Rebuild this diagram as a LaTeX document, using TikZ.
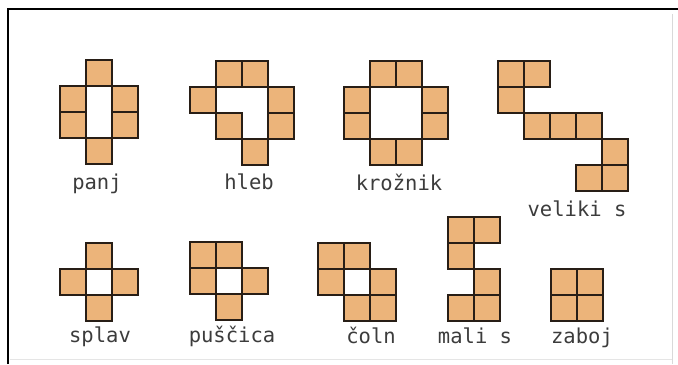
\documentclass[tikz,border=0pt]{standalone}
\usepackage{fontspec}
\usepackage{xcolor}
\usepackage{tikz}
\usetikzlibrary{positioning}
\newfontfamily\lblfont{DejaVu Sans Mono}
\definecolor{cellfill}{RGB}{236,180,122}
\definecolor{cellline}{RGB}{40,30,22}
\definecolor{lbltext}{RGB}{60,60,60}

\begin{document}
\begin{tikzpicture}[
    x=0.03cm,y=-0.03cm,
    cell/.style={draw=cellline,fill=cellfill,line width=1.3pt,minimum size=0.78cm,inner sep=0pt,outer sep=0pt},
    lbl/.style={text=lbltext,font=\lblfont\fontsize{17.5}{20}\selectfont,inner sep=0pt,anchor=base}
  ]
    \useasboundingbox (0,0) rectangle (678,364);
    % frame
    \draw[line width=1.4pt] (8,364) -- (8,9) -- (678,9);
    \draw[black!15,line width=0.8pt] (672,14) -- (672,364);
    \draw[black!10,line width=0.8pt] (10,359) -- (672,359);

    % top row
    \foreach \c/\r in {1/0,0/1,2/1,0/2,2/2,1/3}
      \node[cell] (panj-\c-\r) at ({60+26*\c+13},{60+26*\r+13}) {};
    \node[lbl] (lpanj) at (97,189) {panj};

    \foreach \c/\r in {1/0,2/0,0/1,3/1,1/2,3/2,2/3}
      \node[cell] (hleb-\c-\r) at ({190+26*\c+13},{61+26*\r+13}) {};
    \node[lbl] (lhleb) at (249,189) {hleb};

    \foreach \c/\r in {1/0,2/0,0/1,3/1,0/2,3/2,1/3,2/3}
      \node[cell] (kroznik-\c-\r) at ({344+26*\c+13},{61+26*\r+13}) {};
    \node[lbl] (lkroznik) at (399,190) {krožnik};

    \foreach \c/\r in {0/0,1/0,0/1,1/2,2/2,3/2,4/3,3/4,4/4}
      \node[cell] (velikis-\c-\r) at ({498+26*\c+13},{61+26*\r+13}) {};
    \node[lbl] (lvelikis) at (577,216) {veliki s};

    % bottom row
    \foreach \c/\r in {1/0,0/1,2/1,1/2}
      \node[cell] (splav-\c-\r) at ({60+26*\c+13},{243+26*\r+13}) {};
    \node[lbl] (lsplav) at (100,342) {splav};

    \foreach \c/\r in {0/0,1/0,0/1,2/1,1/2}
      \node[cell] (puscica-\c-\r) at ({190+26*\c+13},{242+26*\r+13}) {};
    \node[lbl] (lpuscica) at (232,342) {puščica};

    \foreach \c/\r in {0/0,1/0,0/1,2/1,1/2,2/2}
      \node[cell] (coln-\c-\r) at ({318+26*\c+13},{243+26*\r+13}) {};
    \node[lbl] (lcoln) at (371,343) {čoln};

    \foreach \c/\r in {0/0,1/0,0/1,1/2,0/3,1/3}
      \node[cell] (malis-\c-\r) at ({448+26*\c+13},{217+26*\r+13}) {};
    \node[lbl] (lmalis) at (475,343) {mali s};

    \foreach \c/\r in {0/0,1/0,0/1,1/1}
      \node[cell] (zaboj-\c-\r) at ({551+26*\c+13},{269+26*\r+13}) {};
    \node[lbl] (lzaboj) at (582,343) {zaboj};
  \end{tikzpicture}
\end{document}
